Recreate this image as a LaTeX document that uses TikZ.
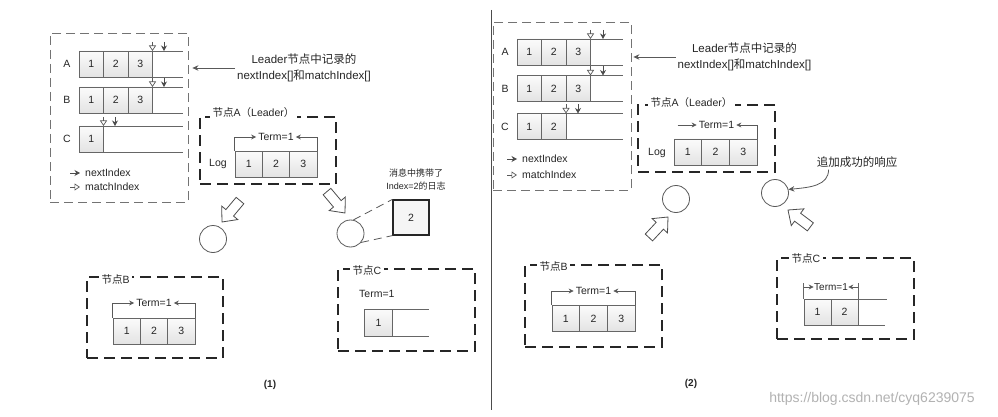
\documentclass[tikz,border=0pt]{standalone}
\usepackage{fontspec}
\setmainfont{Liberation Sans}
\newfontfamily\cjk{Noto Sans CJK SC}
\usetikzlibrary{arrows.meta}
\newcommand\blockarr[3]{%
  \begin{scope}[shift={(#1,#2)},rotate=#3]
    \draw[blockstyle] (0,0) -- (-12,10.5) -- (-12,5) -- (-28,5) -- (-28,-5) -- (-12,-5) -- (-12,-10.5) -- cycle;
  \end{scope}}
\tikzset{
  cellbox/.style={draw=black!60, line width=0.7pt, top color=gray!3, bottom color=gray!22, minimum height=26pt, inner sep=0pt, text=black!85, font=\fontsize{10.5}{12}\selectfont},
  cellS/.style={cellbox, minimum width=24.5pt},
  cellL/.style={cellbox, minimum width=27.4pt},
  rowline/.style={draw=black!60, line width=0.7pt},
  nodebox/.style={draw=black!85, line width=1.1pt, dash pattern=on 11pt off 6pt, inner sep=0pt},
  bigbox/.style={draw=black!55, line width=0.8pt, dash pattern=on 9pt off 5pt, inner sep=0pt},
  titletxt/.style={fill=white, inner sep=2.5pt, anchor=west, text=black!85, font=\fontsize{10.5}{12}\selectfont},
  txt/.style={inner sep=1pt, text=black!85, font=\fontsize{10.5}{12}\selectfont},
  termtxt/.style={inner sep=2pt, text=black!85, font=\fontsize{10.5}{12}\selectfont},
  notetxt/.style={align=center, inner sep=2pt, text=black!85, font=\fontsize{11.5}{16}\selectfont},
  smallnote/.style={align=center, inner sep=2pt, text=black!85, font=\fontsize{9}{13}\selectfont},
  bracket/.style={draw=black!65, line width=0.7pt, -{Stealth[length=5pt,width=5pt]}},
  nextarr/.style={draw=black!70, line width=0.8pt, -{Stealth[length=5.5pt,width=6pt]}},
  matcharr/.style={draw=black!65, line width=0.7pt, -{Triangle[open,length=5.5pt,width=7pt]}},
  notearrow/.style={draw=black!65, line width=0.8pt, -{Stealth[length=6pt,width=5.5pt]}},
  circ/.style={circle, draw=black!65, line width=0.8pt, minimum size=27pt, inner sep=0pt},
  blockstyle/.style={draw=black!70, line width=0.8pt, fill=white, line join=miter},
  msgline/.style={draw=black!65, line width=0.8pt, dash pattern=on 8pt off 5pt},
  capt/.style={text=black!85, font=\bfseries\fontsize{10}{12}\selectfont},
}
\begin{document}
\begin{tikzpicture}[x=1pt,y=-1pt]
\useasboundingbox (0,0) rectangle (998,417);
\fill[white] (0,0) rectangle (998,417);

% ================= LEFT PANEL (1) =================
\node[bigbox, minimum width=138pt, minimum height=169pt] (lbox) at (119,117.5) {};
\node[txt] (lLa) at (67,64) {A};
\node[txt] (lLb) at (67,100) {B};
\node[txt] (lLc) at (67,139) {C};
% row A
\draw[rowline] (79,51) -- (183,51) (79,77) -- (183,77);
\node[cellS] (lA1) at (91.25,64) {1};
\node[cellS] (lA2) at (115.75,64) {2};
\node[cellS] (lA3) at (140.25,64) {3};
\draw[matcharr] (152.5,42) -- (152.5,51);
\draw[nextarr] (164,42) -- (164,51);
% row B
\draw[rowline] (79,87) -- (183,87) (79,113) -- (183,113);
\node[cellS] (lB1) at (91.25,100) {1};
\node[cellS] (lB2) at (115.75,100) {2};
\node[cellS] (lB3) at (140.25,100) {3};
\draw[matcharr] (152.5,78) -- (152.5,87);
\draw[nextarr] (164,78) -- (164,87);
% row C
\draw[rowline] (79,126) -- (183,126) (79,152) -- (183,152);
\node[cellS] (lC1) at (91.25,139) {1};
\draw[matcharr] (103.5,117) -- (103.5,126);
\draw[nextarr] (115,117) -- (115,126);
% legend
\draw[nextarr] (70,173) -- (80,173);
\node[txt, anchor=west] (lLegN) at (84,173) {nextIndex};
\draw[matcharr] (70,187) -- (80,187);
\node[txt, anchor=west] (lLegM) at (84,187) {matchIndex};
% note
\node[notetxt] (lnote) at (304,68) {Leader{\cjk 节点中记录的}\\nextIndex[]{\cjk 和}matchIndex[]};
\draw[notearrow, shorten >=4pt] (lnote.west) -- (lnote.west -| lbox.east);

% node A (Leader)
\node[nodebox, minimum width=136pt, minimum height=67pt] (lAbox) at (268,150.5) {};
\node[titletxt] (lAtitle) at (210,113) {{\cjk 节点}A{\cjk （}Leader{\cjk ）}};
\node[txt] (lAlog) at (218,164) {Log};
\node[cellL] (lAc1) at (248.7,164) {1};
\node[cellL] (lAc2) at (276,164) {2};
\node[cellL] (lAc3) at (303.3,164) {3};
\node[termtxt] (lAterm) at (276,137) {Term=1};
\draw[bracket] (lAc1.north west) |- (lAterm.west);
\draw[bracket] (lAc3.north east) |- (lAterm.east);

% circles and block arrows
\node[circ] (lcB) at (213,239) {};
\blockarr{222}{222}{230}
\node[circ] (lcC) at (350.5,233.5) {};
\blockarr{345}{213}{310}
\node[draw=black!85, line width=1.2pt, fill=gray!8, minimum width=36pt, minimum height=35pt, inner sep=0pt, text=black!85, font=\fontsize{10.5}{12}\selectfont] (msg) at (411,217.5) {2};
\draw[msgline] (lcC.78) -- (msg.north west);
\draw[msgline] (lcC.-40) -- (msg.south west);
\node[smallnote] (msgnote) at (416,179.5) {{\cjk 消息中携带了}\\Index=2{\cjk 的日志}};

% node B
\node[nodebox, minimum width=136pt, minimum height=81pt] (lBbox) at (155,317.5) {};
\node[titletxt] (lBtitle) at (99,280) {{\cjk 节点}B};
\node[cellL] (lBc1) at (126.7,331) {1};
\node[cellL] (lBc2) at (154,331) {2};
\node[cellL] (lBc3) at (181.3,331) {3};
\node[termtxt] (lBterm) at (154,303) {Term=1};
\draw[bracket] (lBc1.north west) |- (lBterm.west);
\draw[bracket] (lBc3.north east) |- (lBterm.east);

% node C
\node[nodebox, minimum width=137pt, minimum height=82pt] (lCbox) at (406.5,310) {};
\node[titletxt] (lCtitle) at (350,271) {{\cjk 节点}C};
\node[txt, anchor=west] (lCterm) at (358,294) {Term=1};
\draw[rowline] (365,309) -- (429,309) (365,336) -- (429,336);
\node[cellL, minimum height=27pt] (lCc1) at (378.5,322.5) {1};

\node[capt] (cap1) at (270,385) {(1)};

% divider
\draw[black!70, line width=0.8pt] (491,10) -- (491,410);

% ================= RIGHT PANEL (2) =================
\node[bigbox, minimum width=138pt, minimum height=168pt] (rbox) at (562,106) {};
\node[txt] (rLa) at (505,52) {A};
\node[txt] (rLb) at (505,88.5) {B};
\node[txt] (rLc) at (505,126.5) {C};
% row A
\draw[rowline] (517,39) -- (623,39) (517,65) -- (623,65);
\node[cellS] (rA1) at (529.25,52) {1};
\node[cellS] (rA2) at (553.75,52) {2};
\node[cellS] (rA3) at (578.25,52) {3};
\draw[matcharr] (590.5,30) -- (590.5,39);
\draw[nextarr] (603,30) -- (603,39);
% row B
\draw[rowline] (517,75.5) -- (623,75.5) (517,101.5) -- (623,101.5);
\node[cellS] (rB1) at (529.25,88.5) {1};
\node[cellS] (rB2) at (553.75,88.5) {2};
\node[cellS] (rB3) at (578.25,88.5) {3};
\draw[matcharr] (590.5,66.5) -- (590.5,75.5);
\draw[nextarr] (603,66.5) -- (603,75.5);
% row C
\draw[rowline] (517,113.5) -- (623,113.5) (517,139.5) -- (623,139.5);
\node[cellS] (rC1) at (529.25,126.5) {1};
\node[cellS] (rC2) at (553.75,126.5) {2};
\draw[matcharr] (566,104.5) -- (566,113.5);
\draw[nextarr] (578,104.5) -- (578,113.5);
% legend
\draw[nextarr] (507,159) -- (517,159);
\node[txt, anchor=west] (rLegN) at (521,159) {nextIndex};
\draw[matcharr] (507,175) -- (517,175);
\node[txt, anchor=west] (rLegM) at (521,175) {matchIndex};
% note
\node[notetxt] (rnote) at (744.5,57) {Leader{\cjk 节点中记录的}\\nextIndex[]{\cjk 和}matchIndex[]};
\draw[notearrow, shorten >=2pt] (rnote.west) -- (rnote.west -| rbox.east);

% node A (Leader)
\node[nodebox, minimum width=137pt, minimum height=67pt] (rAbox) at (706.5,138.5) {};
\node[titletxt] (rAtitle) at (648,103) {{\cjk 节点}A{\cjk （}Leader{\cjk ）}};
\node[txt] (rAlog) at (657,153) {Log};
\node[cellL] (rAc1) at (687.8,152) {1};
\node[cellL] (rAc2) at (715.5,152) {2};
\node[cellL] (rAc3) at (743.2,152) {3};
\node[termtxt] (rAterm) at (716.5,125) {Term=1};
\draw[bracket] (rAterm.west) ++(-19,0) -- (rAterm.west);
\draw[bracket] (rAc3.north east) |- (rAterm.east);

% circles and block arrows
\node[circ] (rcB) at (676,199) {};
\blockarr{668}{217}{47}
\node[circ] (rcC) at (775,193) {};
\blockarr{788}{210}{143}
\node[notetxt] (rnote2) at (857,162) {\cjk 追加成功的响应};
\draw[notearrow] ([xshift=14pt]rnote2.south west) .. controls +(0,16) and +(22,-2) .. (rcC.15);

% node B
\node[nodebox, minimum width=137pt, minimum height=82pt] (rBbox) at (593.5,306) {};
\node[titletxt] (rBtitle) at (537,267) {{\cjk 节点}B};
\node[cellL] (rBc1) at (565.8,318.5) {1};
\node[cellL] (rBc2) at (593.5,318.5) {2};
\node[cellL] (rBc3) at (621.2,318.5) {3};
\node[termtxt] (rBterm) at (593.5,291) {Term=1};
\draw[bracket] (rBc1.north west) |- (rBterm.west);
\draw[bracket] (rBc3.north east) |- (rBterm.east);

% node C
\node[nodebox, minimum width=137pt, minimum height=81pt] (rCbox) at (845.5,298.5) {};
\node[titletxt] (rCtitle) at (789,259) {{\cjk 节点}C};
\draw[rowline] (804,299) -- (887,299) (804,325) -- (885,325);
\node[cellL, minimum width=27pt] (rCc1) at (817.5,312) {1};
\node[cellL, minimum width=27pt] (rCc2) at (844.5,312) {2};
\draw[rowline] (858,299) -- (858,325);
\draw[rowline] (rCc1.north west) -- ++(0,-16);
\draw[rowline] (858,299) -- (858,283);
\node[inner sep=0.3pt, text=black!85, font=\fontsize{10}{12}\selectfont] (rCterm) at (831,287) {Term=1};
\draw[bracket] (804,287) -- (rCterm.west);
\draw[bracket] (858,287) -- (rCterm.east);

\node[capt] (cap2) at (691,384) {(2)};

% watermark
\node[text=black!30, font=\fontsize{14}{16}\selectfont] (wm) at (872,399) {https://blog.csdn.net/cyq6239075};
\end{tikzpicture}
\end{document}
